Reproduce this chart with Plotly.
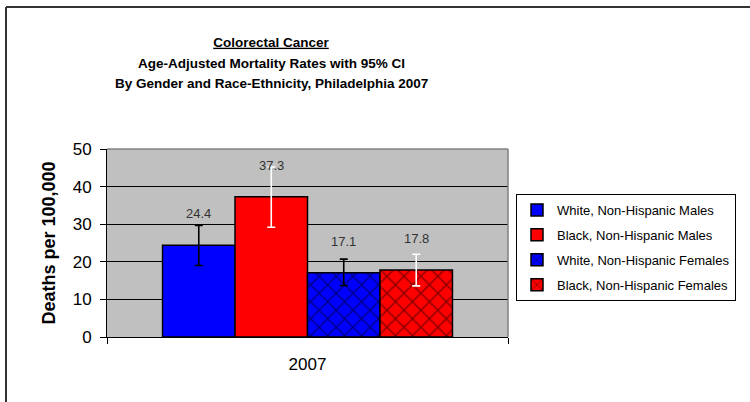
import plotly.graph_objects as go

# ---- data ----
categories = ["2007"]
series_names = [
    "White, Non-Hispanic Males",
    "Black, Non-Hispanic Males",
    "White, Non-Hispanic Females",
    "Black, Non-Hispanic Females",
]
rates = [24.4, 37.3, 17.1, 17.8]
ci_upper = [29.7, 45.2, 20.7, 22.0]
ci_lower = [19.0, 29.2, 13.7, 13.6]
y_ticks = [0, 10, 20, 30, 40, 50]
title_lines = [
    "Colorectal Cancer",
    "Age-Adjusted Mortality Rates with 95% CI",
    "By Gender and Race-Ethnicity, Philadelphia 2007",
]

# ---- styles ----
fill_colors = ["#0000FF", "#FF0000", "#0000FF", "#FF0000"]
patterns = ["", "", "x", "x"]
err_colors = ["#000000", "#FFFFFF", "#000000", "#FFFFFF"]
FONT = "Liberation Sans, Arial, sans-serif"
BARGAP = 0.277
n = len(series_names)

fig = go.Figure()
for i, name in enumerate(series_names):
    fig.add_trace(go.Bar(
        x=categories,
        y=[rates[i]],
        name=name,
        legendgroup=name,
        marker=dict(
            color=fill_colors[i],
            line=dict(color="black", width=1.5),
            pattern=dict(shape=patterns[i], fgcolor="black", bgcolor=fill_colors[i],
                         size=12, solidity=0.2, fillmode="overlay"),
        ),
        error_y=dict(
            type="data", symmetric=False,
            array=[ci_upper[i] - rates[i]],
            arrayminus=[rates[i] - ci_lower[i]],
            color=err_colors[i], thickness=1.6, width=4,
        ),
        hoverinfo="skip",
    ))

# data labels above each bar
bw = (1 - BARGAP) / n
for i in range(n):
    xpos = -(1 - BARGAP) / 2 + (i + 0.5) * bw
    fig.add_annotation(
        x=xpos, y=rates[i], xref="x", yref="y",
        text=f"{rates[i]:.1f}", showarrow=False,
        yanchor="bottom", yshift=22,
        font=dict(family=FONT, size=13, color="#333333"),
    )

W, H = 750, 402
# plot area in page pixels: x 107..508, y 149..337
L, T = 107, 149
R = W - 508
B = H - 337
pw, ph = W - L - R, H - T - B

def px_x(p):
    return (p - L) / pw

def px_y(p):
    return (H - B - p) / ph

# title lines 2 and 3 (line 1 is the layout title)
title_centers_y = [63, 83]
for txt, cy in zip(title_lines[1:], title_centers_y):
    fig.add_annotation(
        x=px_x(271), y=px_y(cy), xref="paper", yref="paper",
        text=f"<b>{txt}</b>", showarrow=False,
        xanchor="center", yanchor="middle",
        font=dict(family=FONT, size=13.5, color="black"),
    )

shapes = [
    # plot-area border (top and right, gray)
    dict(type="line", xref="paper", yref="paper", x0=0, x1=1, y0=1, y1=1,
         line=dict(color="#808080", width=1.5), layer="above"),
    dict(type="line", xref="paper", yref="paper", x0=1, x1=1, y0=0, y1=1,
         line=dict(color="#808080", width=1.5), layer="above"),
    # outer chart border (top and left)
    dict(type="line", xref="paper", yref="paper", x0=px_x(6), x1=px_x(770),
         y0=px_y(7), y1=px_y(7), line=dict(color="#333333", width=2)),
    dict(type="line", xref="paper", yref="paper", x0=px_x(6), x1=px_x(6),
         y0=px_y(7), y1=px_y(420), line=dict(color="#333333", width=2)),
]

fig.update_layout(
    width=W, height=H,
    margin=dict(l=L, r=R, t=T, b=B, autoexpand=False),
    paper_bgcolor="white",
    plot_bgcolor="#C0C0C0",
    barmode="group",
    bargap=BARGAP,
    bargroupgap=0,
    showlegend=True,
    hovermode=False,
    title=dict(
        text=f"<span style='text-decoration:underline'>{title_lines[0]}</span>",
        x=271 / W, xref="container", xanchor="center",
        y=1 - 42 / H, yref="container", yanchor="middle",
        font=dict(family=FONT, size=13.5, color="black", weight="bold"),
    ),
    legend=dict(
        x=px_x(516), y=px_y(194), xanchor="left", yanchor="top",
        bordercolor="black", borderwidth=1, bgcolor="white",
        font=dict(family=FONT, size=13, color="black"),
        tracegroupgap=5, itemwidth=30,
    ),
    xaxis=dict(
        type="category",
        showline=True, linecolor="black", linewidth=1,
        ticks="outside", tickson="boundaries", ticklen=6, tickcolor="black",
        tickfont=dict(family=FONT, size=17, color="black"),
        ticklabelstandoff=12,
        showgrid=False,
    ),
    yaxis=dict(
        range=[0, 50], tickvals=y_ticks,
        showline=True, linecolor="black", linewidth=1,
        ticks="outside", ticklen=6, tickcolor="black",
        tickfont=dict(family=FONT, size=17, color="black"),
        ticklabelstandoff=5,
        showgrid=True, gridcolor="black", gridwidth=1,
        zeroline=False,
        title=dict(text="<b>Deaths per 100,000</b>", standoff=12,
                   font=dict(family=FONT, size=18, color="black")),
    ),
    shapes=shapes,
)

fig.write_html("out.html", config={"displayModeBar": False},
               post_script="document.body.style.margin='0';")
